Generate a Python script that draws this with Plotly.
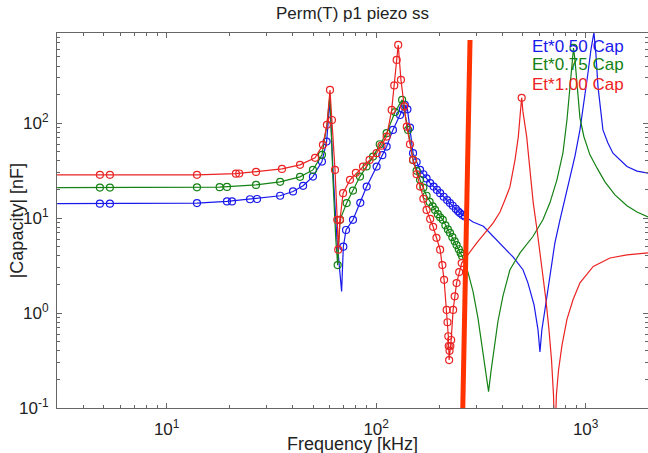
import plotly.graph_objects as go

# ---- axis ticks ----
freq_ticks = [10, 100, 1000]
freq_tick_text = ["10<sup>1</sup>", "10<sup>2</sup>", "10<sup>3</sup>"]
cap_ticks = [0.1, 1, 10, 100]
cap_tick_text = ["10<sup>-1</sup>", "10<sup>0</sup>", "10<sup>1</sup>", "10<sup>2</sup>"]

series_names = ["Et*0.50 Cap", "Et*0.75 Cap", "Et*1.00 Cap"]

# ---- Et*0.50 (blue) ----
blue_line_f = [3.0, 4.8, 13.95, 19.4, 25.0, 34.8, 40.1, 44.8, 49.9, 55.1,
               58.0, 60.2, 62.2, 65.0, 68.4, 69.7, 71.8, 77.5, 90.1, 100.5,
               112.2, 120.2, 130, 137, 141, 145, 150, 162, 181, 202,
               225, 251, 265, 290, 325, 361, 403, 450, 502, 530,
               567, 592, 605, 618, 639, 675, 713, 754, 797, 842,
               889, 939, 981, 1026, 1060, 1095, 1120, 1145, 1209, 1277,
               1350, 1458, 1574, 1758, 1984]
blue_line_c = [14.2, 14.2, 14.4, 15.0, 15.8, 17.2, 19.1, 21.9, 27.4, 39.4,
               64, 176, 32.2, 5.9, 1.69, 5.0, 7.5, 9.6, 21.5, 34.9,
               56.7, 85, 122, 156, 140, 90, 48.3, 32.2, 23.4, 18.3,
               14.4, 11.3, 10.4, 9.1, 8.2, 6.5, 5.0, 3.9, 2.86, 2.08,
               1.22, 0.67, 0.39, 0.67, 1.08, 2.53, 5.5, 9.6, 16, 25.3,
               45, 85, 160, 340, 600, 900, 524, 243, 85, 62,
               48.3, 41, 35, 31.3, 29.8]
blue_mk_f = [4.8, 5.36, 13.95, 19.4, 20.5, 25.0, 27.0, 34.8, 40.1, 44.8,
             49.9, 55.1, 58.0, 69.7, 71.8, 77.5, 84, 90.1, 100.5, 107,
             112.2, 120.2, 130, 134, 137, 141, 145, 150, 156, 162,
             168, 174, 181, 188, 195, 202, 210, 218, 225, 232,
             240, 246, 251, 258, 265, 1095]
blue_mk_c = [14.2, 14.2, 14.4, 15.0, 15.0, 15.8, 15.9, 17.2, 19.1, 21.9,
             27.4, 39.4, 64, 5.0, 7.5, 9.6, 14.5, 21.5, 34.9, 46,
             56.7, 85, 122, 140, 156, 140, 90, 48.3, 39, 32.2,
             29, 26.2, 23.4, 21.5, 19.8, 18.3, 16.8, 15.5, 14.4, 13.5,
             12.5, 11.8, 11.3, 10.8, 10.4, 900]

# ---- Et*0.75 (green) ----
green_line_f = [3.0, 13.95, 17.9, 26.7, 34.8, 43.3, 49.9, 55.1, 58.2, 60.2,
                62.2, 64.2, 65.5, 67.2, 72.3, 83.7, 96.6, 112.2, 123, 133,
                142, 150, 162, 174, 191, 208, 225, 242, 257, 274,
                290, 306, 323, 334, 344, 353, 365, 381, 403, 435,
                486, 560, 625, 675, 729, 779, 814, 842, 860, 875,
                889, 909, 939, 981, 1048, 1132, 1236, 1380, 1574, 1758,
                1984]
green_line_c = [21.0, 21.1, 21.2, 22.4, 24.1, 27.2, 32.2, 46.4, 96, 199,
                25.3, 5.9, 3.2, 9.6, 14.4, 27.4, 44.5, 78.5, 131, 176,
                85, 41, 25.3, 17.2, 12.2, 9.6, 7.0, 5.2, 4.0, 2.72,
                1.68, 0.89, 0.41, 0.24, 0.149, 0.24, 0.41, 0.81, 1.52, 2.86,
                4.3, 6.4, 9.6, 14.5, 25.3, 48.7, 108, 241, 442, 620,
                464, 253, 113.7, 72, 46.4, 33.8, 24.1, 17.6, 13.5, 11.6,
                10.3]
green_mk_f = [4.8, 5.36, 13.95, 17.9, 19.4, 26.7, 34.8, 43.3, 49.9, 55.1,
              65.5, 67.2, 72.3, 77.5, 83.7, 90, 96.6, 104, 112.2, 123,
              133, 142, 150, 156, 162, 168, 174, 180, 186, 191,
              197, 202, 208, 214, 220, 225, 231, 237, 242, 248,
              253, 257, 875]
green_mk_c = [21.0, 21.0, 21.1, 21.2, 21.3, 22.4, 24.1, 27.2, 32.2, 46.4,
              3.2, 9.6, 14.4, 19.5, 27.4, 35, 44.5, 60, 78.5, 131,
              176, 85, 41, 31.5, 25.3, 21, 17.2, 14.8, 13.3, 12.2,
              11.0, 10.2, 9.6, 8.4, 7.6, 7.0, 6.3, 5.7, 5.2, 4.7,
              4.3, 4.0, 620]

# ---- Et*1.00 (red) ----
red_line_f = [3.0, 13.95, 21.4, 26.7, 35.5, 43.3, 51.1, 55.7, 58.2, 60.2,
              61.5, 63.6, 65.2, 65.9, 67.2, 69.5, 75.0, 86.5, 100.5, 112.2,
              118.6, 125.3, 127.4, 131.3, 140, 150, 162, 174, 187, 202,
              211, 217, 221, 223, 228, 233, 242, 256, 302, 362,
              390, 412, 435, 460, 477, 488, 495, 502, 523, 542,
              562, 586, 605, 625, 646, 668, 687, 702, 713.5, 725,
              742, 771, 814, 870, 939, 1087, 1306, 1574, 1984]
red_line_c = [28.6, 28.6, 29.4, 30.7, 33.0, 36.4, 43.2, 59.1, 96, 224,
              108, 32.2, 9.6, 4.65, 9.6, 18.3, 25.3, 34.9, 48.3, 72.3,
              138, 464, 667, 286, 92, 41, 21.5, 12.2, 8.1, 4.65,
              2.24, 1.08, 0.57, 0.32, 0.52, 1.08, 2.07, 3.36, 5.5, 8.9,
              11.6, 15.6, 21.3, 41.1, 71.8, 131.5, 185, 131.5, 71.8, 32.2,
              14.5, 7.5, 4.3, 2.53, 1.38, 0.67, 0.32, 0.138, 0.046, 0.138,
              0.25, 0.46, 0.86, 1.38, 2.08, 3.1, 3.8, 4.1, 4.3]
red_mk_f = [4.8, 5.36, 13.95, 21.4, 22.2, 26.7, 35.5, 43.3, 51.1, 55.7,
            58.2, 60.2, 61.5, 63.6, 65.2, 65.9, 67.2, 69.5, 75.0, 80,
            86.5, 93, 100.5, 106, 112.2, 118.6, 122, 125.3, 127.4, 131.3,
            136, 140, 145, 150, 156, 162, 168, 174, 181, 187,
            194, 202, 207, 211, 217, 219, 221, 222, 223, 224,
            226, 228, 233, 237, 242, 249, 256, 495]
red_mk_c = [28.6, 28.6, 28.6, 29.4, 29.5, 30.7, 33.0, 36.4, 43.2, 59.1,
            96, 224, 108, 32.2, 9.6, 4.65, 9.6, 18.3, 25.3, 30,
            34.9, 41, 48.3, 58, 72.3, 138, 250, 464, 667, 286,
            150, 92, 60, 41, 29, 21.5, 16, 12.2, 9.8, 8.1,
            6.2, 4.65, 3.2, 2.24, 1.08, 0.8, 0.57, 0.45, 0.32, 0.4,
            0.45, 0.52, 1.08, 1.5, 2.07, 2.7, 3.36, 185]

# ---- hand-drawn marker stroke ----
slash_f = [280.5, 259]
slash_c = [753, 0.097]

colors = ["rgb(25,25,235)", "rgb(20,130,20)", "rgb(235,35,35)"]
lines = [(blue_line_f, blue_line_c), (green_line_f, green_line_c), (red_line_f, red_line_c)]
marks = [(blue_mk_f, blue_mk_c), (green_mk_f, green_mk_c), (red_mk_f, red_mk_c)]

fig = go.Figure()
for (lf, lc), (mf, mc), col, name in zip(lines, marks, colors, series_names):
    fig.add_trace(go.Scatter(x=lf, y=lc, mode="lines", name=name,
                             line=dict(color=col, width=1.2), showlegend=False))
    fig.add_trace(go.Scatter(x=mf, y=mc, mode="markers", name=name,
                             marker=dict(symbol="circle-open", size=7, color=col,
                                         line=dict(width=1.2, color=col)),
                             cliponaxis=False, showlegend=False))

fig.add_trace(go.Scatter(x=slash_f, y=slash_c, mode="lines",
                         line=dict(color="rgb(255,50,0)", width=5),
                         showlegend=False, hoverinfo="skip"))

FONT = "Liberation Sans, Arial, sans-serif"
axis_common = dict(
    type="log", showline=True, linecolor="#666", linewidth=1, mirror="ticks",
    ticks="inside", ticklen=5, tickcolor="#666", showgrid=False, zeroline=False,
    tickfont=dict(family=FONT, size=17, color="#222"),
)

x_minor = [m * 10 ** e for e in range(0, 4) for m in range(2, 10) if 3 <= m * 10 ** e <= 2000]
y_minor = [m * 10 ** e for e in range(-1, 3) for m in range(2, 10) if m * 10 ** e <= 900]

fig.update_xaxes(**axis_common, range=[0.4765, 3.2975], tickmode="array",
                 tickvals=freq_ticks, ticktext=freq_tick_text, ticklabelstandoff=6,
                 minor=dict(tickmode="array", tickvals=x_minor, ticks="inside",
                            ticklen=3, tickcolor="#666"))
fig.update_yaxes(**axis_common, range=[-1, 2.95], tickmode="array",
                 tickvals=cap_ticks, ticktext=cap_tick_text, ticklabelstandoff=4,
                 minor=dict(tickmode="array", tickvals=y_minor, ticks="inside",
                            ticklen=3, tickcolor="#666"))

annotations = [
    dict(text="Perm(T) p1 piezo ss", x=0.5, y=1.051, xref="paper", yref="paper",
         xanchor="center", yanchor="middle", showarrow=False,
         font=dict(family=FONT, size=17, color="#222")),
    dict(text="Frequency [kHz]", x=0.5, y=-0.095, xref="paper", yref="paper",
         xanchor="center", yanchor="middle", showarrow=False,
         font=dict(family=FONT, size=18, color="#222")),
    dict(text="|Capacity| [nF]", x=-0.068, y=0.5, xref="paper", yref="paper",
         xanchor="center", yanchor="middle", showarrow=False, textangle=-90,
         font=dict(family=FONT, size=18, color="#222")),
]
legend_y = [0.965, 0.915, 0.864]
for name, col, ly in zip(series_names, colors, legend_y):
    annotations.append(dict(text=name, x=0.80, y=ly, xref="paper", yref="paper",
                            xanchor="left", yanchor="middle", showarrow=False,
                            font=dict(family=FONT, size=17, color=col)))

fig.update_layout(
    width=648, height=453,
    margin=dict(l=57, r=0, t=33, b=45),
    paper_bgcolor="white", plot_bgcolor="white",
    annotations=annotations, showlegend=False,
)

fig.write_html("out.html")
